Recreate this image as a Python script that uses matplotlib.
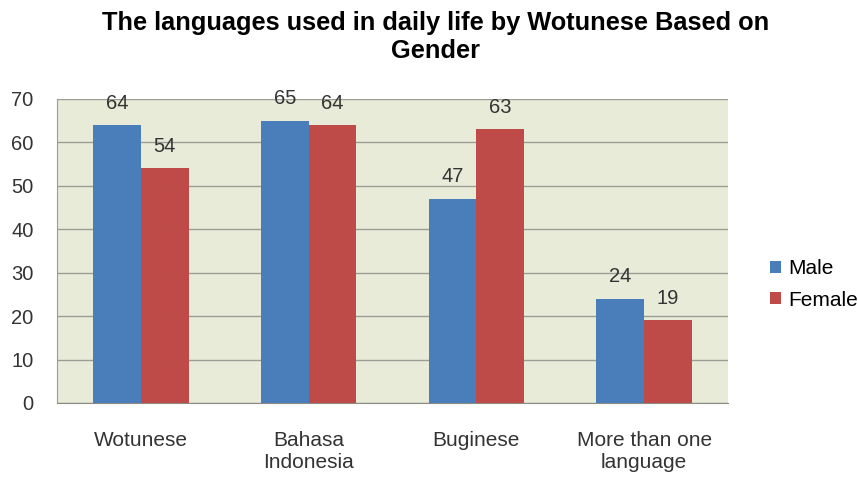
import matplotlib
matplotlib.use("Agg")
import matplotlib.pyplot as plt
import numpy as np

categories = ["Wotunese", "Bahasa\nIndonesia", "Buginese", "More than one\nlanguage"]
male = [64, 65, 47, 24]
female = [54, 64, 63, 19]
y_ticks = [0, 10, 20, 30, 40, 50, 60, 70]

plt.rcParams["font.family"] = ["Liberation Sans", "DejaVu Sans"]

fig = plt.figure(figsize=(8.58, 4.78), dpi=100)
ax = fig.add_axes([57 / 858, 75 / 478, (728 - 57) / 858, (403 - 99) / 478])
ax.set_facecolor("#E9EBD9")

x = np.arange(len(categories))
width = 0.285
b1 = ax.bar(x - width / 2, male, width, color="#4A7EBB", label="Male", zorder=3)
b2 = ax.bar(x + width / 2, female, width, color="#BE4B48", label="Female", zorder=3)

for bars in (b1, b2):
    for rect in bars:
        ax.annotate(f"{rect.get_height():.0f}",
                    (rect.get_x() + rect.get_width() / 2, rect.get_height()),
                    xytext=(0, 9), textcoords="offset points",
                    ha="center", va="bottom", fontsize=14.5, color="#333333")

ax.set_xlim(-0.5, len(categories) - 0.5)
ax.set_ylim(0, 70)
ax.set_yticks(y_ticks)
ax.set_xticks(x)
ax.set_xticklabels(categories, fontsize=15, color="#333333", linespacing=1.2)
ax.tick_params(axis="y", length=0, pad=17, labelsize=14.5, labelcolor="#333333")
ax.tick_params(axis="x", length=0, pad=20)
ax.yaxis.grid(True, color="#9C9C94", linewidth=1.0, zorder=0)

for side in ("top", "right"):
    ax.spines[side].set_visible(False)
ax.spines["left"].set_color("#9C9C94")
ax.spines["bottom"].set_color("#8C8C84")

fig.text(0.508, 0.978, "The languages used in daily life by Wotunese Based on\nGender",
         ha="center", va="top", fontsize=18.3, fontweight="bold", linespacing=1.25)

ax.legend(loc="center left", bbox_to_anchor=(1.035, 0.39), frameon=False,
          fontsize=15, handlelength=0.5, handleheight=0.5, handletextpad=0.35,
          labelspacing=0.6)

fig.savefig("out.png", dpi=100)
